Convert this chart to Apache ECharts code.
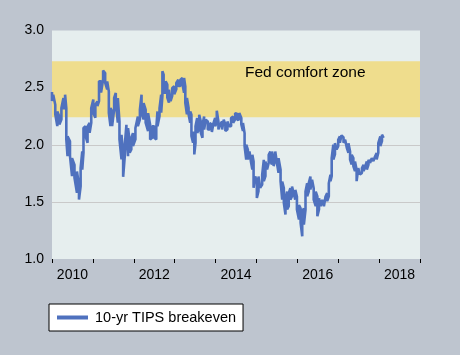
<!DOCTYPE html>
<html>
<head>
<meta charset="utf-8">
<script src="https://cdn.jsdelivr.net/npm/echarts@6/dist/echarts.min.js"></script>
<style>
  html, body { margin: 0; padding: 0; background: #bec5cf; }
  #chart { width: 460px; height: 355px; }
</style>
</head>
<body>
<div id="chart"></div>
<script>
// Decimal years of each reading
const years = [
  2010.00,2010.03,2010.08,2010.13,2010.18,2010.23,2010.28,2010.32,2010.35,2010.38,
  2010.44,2010.49,2010.55,2010.61,2010.66,2010.70,2010.74,2010.77,2010.82,2010.87,
  2010.92,2010.96,2011.01,2011.06,2011.11,2011.15,2011.20,2011.25,2011.30,2011.35,
  2011.39,2011.43,2011.47,2011.52,2011.56,2011.61,2011.65,2011.70,2011.74,2011.78,
  2011.82,2011.86,2011.90,2011.94,2011.98,2012.04,2012.10,2012.15,2012.19,2012.24,
  2012.29,2012.35,2012.40,2012.45,2012.50,2012.55,2012.58,2012.63,2012.67,2012.70,
  2012.73,2012.78,2012.82,2012.86,2012.90,2012.94,2012.99,2013.04,2013.09,2013.14,
  2013.19,2013.23,2013.26,2013.30,2013.34,2013.38,2013.41,2013.45,2013.48,2013.51,
  2013.55,2013.60,2013.64,2013.68,2013.72,2013.76,2013.81,2013.86,2013.91,2013.95,
  2013.99,2014.03,2014.07,2014.11,2014.16,2014.20,2014.24,2014.29,2014.33,2014.38,
  2014.43,2014.48,2014.53,2014.58,2014.63,2014.67,2014.71,2014.75,2014.79,2014.83,
  2014.87,2014.90,2014.93,2014.97,2015.01,2015.05,2015.09,2015.14,2015.18,2015.22,
  2015.26,2015.30,2015.34,2015.38,2015.42,2015.46,2015.50,2015.54,2015.59,2015.63,
  2015.67,2015.71,2015.75,2015.79,2015.83,2015.87,2015.91,2015.95,2015.99,2016.04,
  2016.08,2016.12,2016.16,2016.20,2016.24,2016.28,2016.32,2016.36,2016.40,2016.45,
  2016.49,2016.53,2016.57,2016.61,2016.65,2016.69,2016.73,2016.77,2016.81,2016.84,
  2016.88,2016.92,2016.96,2017.00,2017.04,2017.08,2017.13,2017.17,2017.21,2017.25,
  2017.29,2017.33,2017.37,2017.41,2017.45,2017.49,2017.53,2017.58,2017.62,2017.66,
  2017.70,2017.74,2017.78,2017.82,2017.86,2017.90,2017.94,2017.98,2018.03,2018.07,
  2018.11
];
// Daily highs within each reading window (%)
const upper = [
  2.462,2.438,2.351,2.292,2.248,2.321,2.409,2.438,2.321,2.073,
  2.029,1.883,1.824,1.766,1.649,1.795,1.941,2.146,2.161,2.161,
  2.190,2.321,2.395,2.351,2.380,2.555,2.555,2.649,2.628,2.555,
  2.467,2.321,2.292,2.409,2.453,2.409,2.204,2.087,1.912,2.000,
  2.175,2.146,2.029,2.058,2.102,2.146,2.248,2.307,2.438,2.365,
  2.307,2.277,2.175,2.161,2.161,2.146,2.292,2.321,2.438,2.643,
  2.614,2.555,2.526,2.482,2.482,2.497,2.511,2.541,2.570,2.570,
  2.585,2.585,2.511,2.409,2.321,2.292,2.263,2.117,2.058,2.161,
  2.234,2.263,2.204,2.175,2.248,2.219,2.204,2.190,2.175,2.190,
  2.234,2.298,2.204,2.175,2.204,2.219,2.175,2.204,2.219,2.234,
  2.248,2.277,2.269,2.277,2.234,2.190,2.102,2.000,1.956,1.941,
  1.941,1.912,1.854,1.722,1.678,1.722,1.722,1.737,1.868,1.854,
  1.854,1.912,1.941,1.941,1.883,1.941,1.927,1.883,1.781,1.678,
  1.620,1.532,1.590,1.576,1.620,1.634,1.649,1.605,1.547,1.473,
  1.444,1.415,1.444,1.590,1.664,1.664,1.722,1.693,1.620,1.590,
  1.547,1.532,1.532,1.517,1.517,1.547,1.576,1.664,1.737,1.883,
  2.000,2.014,2.029,2.044,2.073,2.082,2.064,2.044,2.029,2.014,
  1.941,1.912,1.883,1.854,1.781,1.795,1.781,1.795,1.824,1.810,
  1.854,1.868,1.883,1.883,1.897,1.897,1.927,2.014,2.073,2.088,
  2.093
];
// Daily lows within each reading window (%)
const lower = [
  2.383,2.368,2.266,2.163,2.178,2.222,2.310,2.368,2.047,1.900,
  1.900,1.725,1.710,1.579,1.520,1.637,1.783,1.930,2.076,2.017,
  2.105,2.193,2.280,2.237,2.339,2.383,2.456,2.573,2.544,2.485,
  2.280,2.163,2.163,2.310,2.368,2.193,2.047,1.871,1.719,1.900,
  2.047,1.900,1.930,1.959,1.988,2.047,2.163,2.222,2.280,2.222,
  2.193,2.120,2.047,2.061,2.061,2.047,2.163,2.251,2.280,2.427,
  2.456,2.456,2.412,2.368,2.383,2.427,2.441,2.485,2.514,2.514,
  2.529,2.456,2.368,2.266,2.266,2.193,2.076,2.017,1.915,2.017,
  2.105,2.134,2.105,2.061,2.134,2.149,2.134,2.134,2.111,2.120,
  2.163,2.193,2.134,2.120,2.134,2.134,2.120,2.134,2.163,2.163,
  2.193,2.222,2.216,2.222,2.178,2.120,1.988,1.871,1.871,1.871,
  1.842,1.783,1.623,1.608,1.535,1.593,1.623,1.652,1.681,1.725,
  1.783,1.842,1.857,1.827,1.813,1.871,1.842,1.754,1.681,1.520,
  1.491,1.389,1.433,1.462,1.520,1.549,1.579,1.520,1.433,1.345,
  1.316,1.199,1.301,1.433,1.549,1.593,1.608,1.593,1.520,1.462,
  1.374,1.433,1.462,1.447,1.462,1.476,1.506,1.549,1.681,1.725,
  1.871,1.915,1.959,1.988,2.017,2.032,2.017,2.003,1.973,1.930,
  1.871,1.827,1.813,1.769,1.681,1.696,1.740,1.754,1.769,1.754,
  1.783,1.827,1.842,1.857,1.857,1.857,1.871,1.930,1.988,2.032,
  2.061
];
const seriesName = '10-yr TIPS breakeven';
const comfortZone = [2.24, 2.73];
const comfortLabel = 'Fed comfort zone';
const yTicks = [1.0, 1.5, 2.0, 2.5, 3.0];
const xLabelYears = [2010, 2012, 2014, 2016, 2018];

const lineData = [];
for (let i = 0; i < years.length; i++) {
  if (i % 2 === 0) {
    lineData.push([years[i], upper[i]], [years[i], lower[i]]);
  } else {
    lineData.push([years[i], lower[i]], [years[i], upper[i]]);
  }
}

const FONT = '"Liberation Sans", Arial, sans-serif';
const chart = echarts.init(document.getElementById('chart'), null, { renderer: 'canvas' });
chart.setOption({
  animation: false,
  backgroundColor: '#bec5cf',
  textStyle: { fontFamily: FONT },
  grid: {
    left: 52, right: 40, top: 30.5, bottom: 96,
    show: true, backgroundColor: '#e6eeee', borderWidth: 0
  },
  legend: {
    left: 49, top: 304,
    padding: [5, 7, 5, 8],
    backgroundColor: '#ffffff',
    borderColor: '#000000',
    borderWidth: 1,
    borderRadius: 0,
    icon: 'rect',
    itemWidth: 31,
    itemHeight: 4,
    textStyle: { fontSize: 14.5, color: '#000', fontFamily: FONT, lineHeight: 17, padding: [0, 0, 0, 2] },
    data: [seriesName]
  },
  xAxis: [
    {
      type: 'value', min: 2010, max: 2019, interval: 1,
      position: 'bottom',
      axisLine: { show: false, onZero: false },
      axisTick: { show: true, length: 4, lineStyle: { color: '#000', width: 1 } },
      axisLabel: { show: false },
      splitLine: { show: false }
    },
    {
      type: 'value', min: 2010, max: 2019, interval: 0.5,
      position: 'bottom',
      axisLine: { show: false, onZero: false },
      axisTick: { show: false },
      splitLine: { show: false },
      axisLabel: {
        fontSize: 14, color: '#000', fontFamily: FONT, margin: 9,
        showMinLabel: true, showMaxLabel: true,
        formatter: function (v) {
          const y = Math.floor(v);
          if (Math.abs(v - y - 0.5) < 1e-6 && xLabelYears.indexOf(y) >= 0) return String(y);
          return '';
        }
      }
    }
  ],
  yAxis: {
    type: 'value', min: yTicks[0], max: yTicks[yTicks.length - 1], interval: 0.5,
    axisLine: { show: false },
    axisTick: { show: false },
    axisLabel: {
      fontSize: 14, color: '#000', fontFamily: FONT, margin: 8,
      formatter: function (v) { return v.toFixed(1); }
    },
    splitLine: { show: true, showMinLine: false, showMaxLine: false, lineStyle: { color: '#c9c9c9', width: 1 } }
  },
  series: [{
    name: seriesName,
    type: 'line',
    xAxisIndex: 0,
    data: lineData,
    showSymbol: false,
    symbol: 'none',
    sampling: null,
    lineStyle: { color: '#4f71be', width: 2.6 },
    itemStyle: { color: '#4f71be' },
    z: 3,
    markArea: {
      silent: true,
      itemStyle: { color: '#efdd8d' },
      label: {
        show: true,
        position: [193, 3],
        color: '#000',
        fontSize: 15.5,
        fontFamily: FONT
      },
      data: [[{ name: comfortLabel, yAxis: comfortZone[0] }, { yAxis: comfortZone[1] }]]
    }
  }]
});
</script>
</body>
</html>
